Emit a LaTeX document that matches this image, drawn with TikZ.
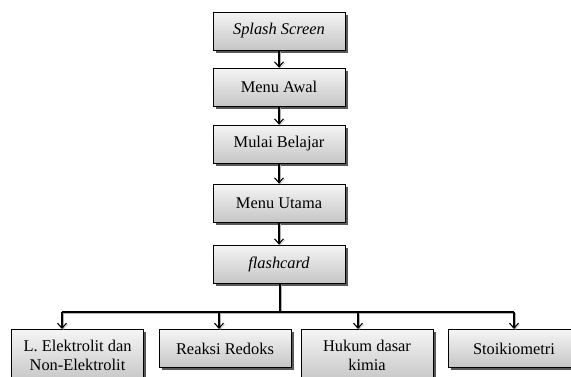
\documentclass[tikz,border=0pt]{standalone}
\usepackage{fontspec}
\setmainfont{Liberation Serif}
\usetikzlibrary{shadows,arrows.meta}

\tikzset{
  menubox/.style={draw=black, line width=0.8pt, top color=gray!8, bottom color=gray!45,
    minimum width=132pt, minimum height=38pt, inner sep=3pt, align=center,
    drop shadow={shadow xshift=2.5pt, shadow yshift=-2.5pt, fill=black!65, opacity=1}},
  topicbox/.style={menubox, anchor=north},
  twoline/.style={inner ysep=11pt},
  link/.style={line width=1.1pt, draw=black,
    preaction={draw=gray!60, transform canvas={xshift=1.2pt, yshift=-1.2pt}}},
  tip/.style={-{Straight Barb[length=5pt, width=9pt, line width=1.1pt]}}
}

\begin{document}
\begin{tikzpicture}[x=1pt, y=-1pt, font=\fontsize{16.4}{19}\selectfont]
                \useasboundingbox (0,0) rectangle (571,376);

                % --- MENU (top column) ---
                \node[menubox] (splash) at (279,31) {\textit{Splash Screen}};
                \node[menubox] (awal) at (279,87) {Menu Awal};
                \node[menubox] (mulai) at (279,144) {Mulai Belajar};
                \node[menubox] (utama) at (279,203) {Menu Utama};
                \node[menubox] (fc) at (279,264) {\textit{flashcard}};

                \draw[link, tip] (splash) -- (awal);
                \draw[link, tip] (awal) -- (mulai);
                \draw[link, tip] (mulai) -- (utama);
                \draw[link, tip] (utama) -- (fc);

                % --- TOPICS ---
                \node[topicbox, twoline] (elek) at (77.5,329) {L. Elektrolit dan\\Non-Elektrolit};
                \node[topicbox] (redoks) at (225,329) {Reaksi Redoks};
                \node[topicbox, twoline] (hukum) at (367,329) {Hukum dasar\\kimia};
                \node[topicbox] (stoik) at (514,329) {Stoikiometri};

                % bus line
                \coordinate (bus) at (280,312);
                \coordinate (j1) at (62,312);
                \coordinate (j2) at (219,312);
                \coordinate (j3) at (358,312);
                \coordinate (j4) at (514,312);

                \draw[link] (fc.south -| bus) -- (bus);
                \draw[link] (j1) -- (j4);
                \draw[link, tip] (j1) -- (j1 |- elek.north);
                \draw[link, tip] (j2) -- (j2 |- redoks.north);
                \draw[link, tip] (j3) -- (j3 |- hukum.north);
                \draw[link, tip] (j4) -- (j4 |- stoik.north);
            \end{tikzpicture}
\end{document}
